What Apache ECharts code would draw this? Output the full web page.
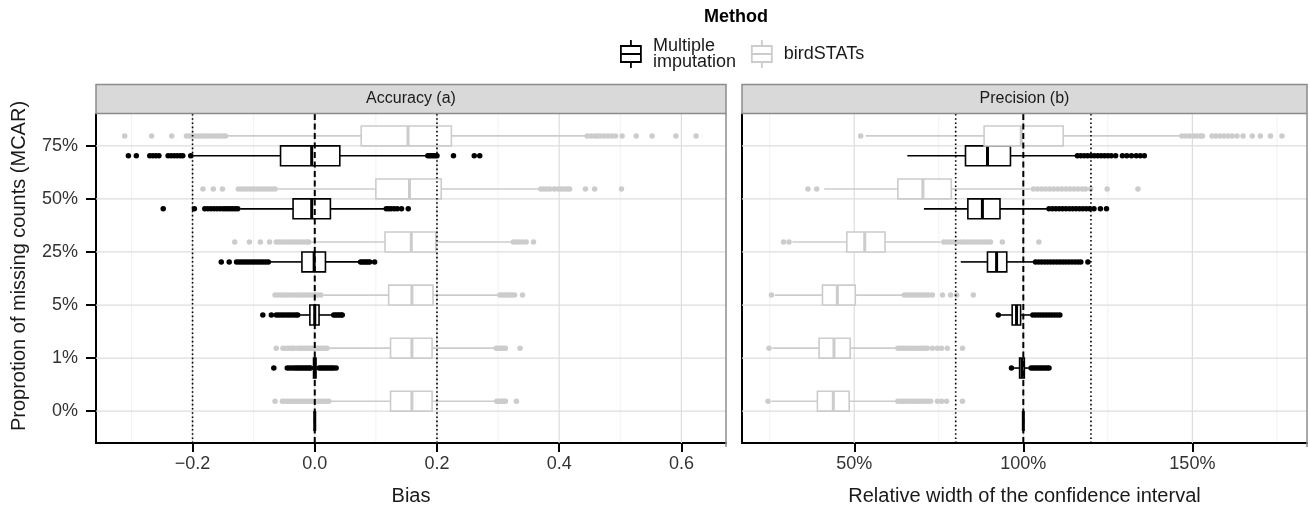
<!DOCTYPE html>
<html>
<head>
<meta charset="utf-8">
<style>
  html, body { margin: 0; padding: 0; background: #ffffff; }
  #chart { width: 1310px; height: 511px; }
</style>
<script src="https://cdn.jsdelivr.net/npm/echarts@6/dist/echarts.min.js"></script>
</head>
<body>
<div id="chart"></div>
<script>
// Proportion of missing counts, bottom to top
const categories = ['0%', '1%', '5%', '25%', '50%', '75%'];

// Axis ticks
const biasTicks = [-0.2, 0, 0.2, 0.4, 0.6];
const biasMinor = [-0.3, -0.1, 0.1, 0.3, 0.5];
const widthTicks = [50, 100, 150];
const widthMinor = [25, 75, 125, 175];

// Reference lines
const biasDotted = [-0.2, 0.2];
const biasDashed = [0];
const widthDotted = [80, 120];
const widthDashed = [100];

// Box statistics per category: [lower whisker, Q1, median, Q3, upper whisker]
const biasMIBox = [
  [0, 0, 0, 0, 0],
  [-0.006, -0.002, 0, 0.002, 0.006],
  [-0.026, -0.008, 0, 0.007, 0.029],
  [-0.073, -0.021, -0.001, 0.0175, 0.072],
  [-0.122, -0.0355, -0.005, 0.0256, 0.1145],
  [-0.199, -0.056, -0.005, 0.041, 0.183]
];
const biasBSBox = [
  [0.025, 0.124, 0.159, 0.192, 0.296],
  [0.024, 0.124, 0.159, 0.192, 0.294],
  [0.014, 0.121, 0.159, 0.1935, 0.301],
  [-0.008, 0.115, 0.158, 0.198, 0.322],
  [-0.063, 0.100, 0.155, 0.207, 0.368],
  [-0.142, 0.076, 0.1526, 0.2236, 0.444]
];
const widthMIBox = [
  [100, 100, 100, 100, 100],
  [97.0, 98.9, 99.6, 100.3, 101.8],
  [93.0, 96.7, 98.0, 99.2, 102.2],
  [81.5, 89.4, 92.1, 95.1, 103.1],
  [70.6, 83.6, 87.9, 93.1, 107.1],
  [65.7, 82.9, 89.4, 96.2, 115.5]
];
const widthBSBox = [
  [25.5, 39.1, 43.8, 48.5, 62.3],
  [25.8, 39.6, 44.0, 48.8, 62.3],
  [26.5, 40.6, 45.0, 50.3, 64.2],
  [31.7, 47.8, 53.1, 59.1, 75.8],
  [41.1, 62.9, 70.3, 78.7, 102.2],
  [53.4, 88.4, 99.4, 111.8, 146.5]
];

// Outlying values per category
const biasMIOut = [
  [],
  [-0.067, -0.045, -0.041, -0.037, -0.033, -0.030, -0.027, -0.024, -0.021, -0.018, -0.015, -0.012, -0.009, -0.007,
   0.007, 0.010, 0.013, 0.016, 0.019, 0.022, 0.025, 0.028, 0.031, 0.035],
  [-0.085, -0.071, -0.063, -0.059, -0.055, -0.051, -0.047, -0.043, -0.039, -0.035, -0.031, -0.028,
   0.031, 0.034, 0.037, 0.040, 0.043, 0.045],
  [-0.153, -0.140, -0.128, -0.124, -0.120, -0.116, -0.112, -0.108, -0.104, -0.100, -0.096, -0.092, -0.088, -0.084, -0.080, -0.076,
   0.075, 0.078, 0.081, 0.084, 0.087, 0.090, 0.098],
  [-0.248, -0.197, -0.180, -0.175, -0.170, -0.165, -0.160, -0.155, -0.150, -0.146, -0.142, -0.138, -0.134, -0.130, -0.126,
   0.117, 0.121, 0.125, 0.130, 0.135, 0.142, 0.153],
  [-0.305, -0.292, -0.270, -0.265, -0.260, -0.255, -0.240, -0.235, -0.230, -0.225, -0.220, -0.216, -0.203,
   0.185, 0.188, 0.191, 0.194, 0.197, 0.200, 0.227, 0.261, 0.270]
];
const biasBSOut = [
  [-0.065, -0.053, -0.049, -0.045, -0.041, -0.037, -0.033, -0.029, -0.025, -0.021, -0.017, -0.013, -0.009, -0.005, -0.001, 0.003, 0.007, 0.011, 0.015, 0.019, 0.023,
   0.298, 0.301, 0.304, 0.307, 0.310, 0.312, 0.330],
  [-0.063, -0.052, -0.048, -0.044, -0.040, -0.036, -0.034, -0.028, -0.024, -0.020, -0.016, -0.012, -0.008, -0.004, 0.000, 0.004, 0.008, 0.012, 0.016, 0.020,
   0.297, 0.300, 0.303, 0.306, 0.309, 0.312, 0.336],
  [-0.065, -0.060, -0.055, -0.050, -0.045, -0.040, -0.035, -0.030, -0.025, -0.020, -0.015, -0.010, -0.005, 0.000, 0.005, 0.010,
   0.303, 0.307, 0.311, 0.315, 0.319, 0.323, 0.327, 0.340],
  [-0.131, -0.107, -0.089, -0.074, -0.063, -0.058, -0.053, -0.048, -0.043, -0.038, -0.033, -0.028, -0.023, -0.018, -0.013, -0.010,
   0.325, 0.330, 0.335, 0.340, 0.346, 0.358],
  [-0.183, -0.166, -0.151, -0.125, -0.120, -0.115, -0.110, -0.105, -0.100, -0.095, -0.090, -0.085, -0.080, -0.075, -0.070, -0.065,
   0.370, 0.375, 0.380, 0.385, 0.392, 0.398, 0.403, 0.408, 0.413, 0.417, 0.443, 0.458, 0.502],
  [-0.311, -0.267, -0.234, -0.210, -0.205, -0.200, -0.195, -0.190, -0.185, -0.180, -0.175, -0.170, -0.165, -0.160, -0.155, -0.150, -0.146,
   0.446, 0.452, 0.458, 0.463, 0.468, 0.474, 0.480, 0.486, 0.492, 0.503, 0.526, 0.552, 0.591, 0.624]
];
const widthMIOut = [
  [],
  [96.5, 102.3, 102.9, 103.5, 104.1, 104.7, 105.3, 105.9, 106.5, 107.1, 107.6],
  [92.6, 102.8, 103.6, 104.4, 105.2, 106.0, 106.8, 107.6, 108.4, 109.2, 110.0, 110.8],
  [103.6, 104.5, 105.4, 106.3, 107.2, 108.1, 109.0, 109.9, 110.8, 111.7, 112.6, 113.5, 114.4, 115.3, 116.2, 117.0, 119.1],
  [107.6, 108.6, 109.6, 110.6, 111.6, 112.6, 113.6, 114.6, 115.6, 116.6, 117.6, 118.6, 119.6, 120.9, 122.8, 124.6],
  [116.0, 117.0, 118.0, 119.0, 120.0, 121.0, 122.0, 123.0, 124.0, 125.0, 126.0, 127.3, 129.3, 130.6, 132.0, 133.4, 134.6, 135.8]
];
const widthBSOut = [
  [24.5, 62.9, 63.7, 64.5, 65.3, 66.1, 66.9, 67.7, 68.5, 69.3, 70.1, 70.9, 71.7, 72.6, 74.6, 75.8, 77.3, 82.0],
  [24.8, 62.9, 63.7, 64.5, 65.3, 66.1, 66.9, 67.7, 68.5, 69.3, 70.1, 70.9, 71.6, 73.1, 74.6, 75.8, 77.5, 82.0],
  [25.5, 64.8, 65.6, 66.4, 67.2, 68.0, 68.8, 69.6, 70.4, 71.2, 72.0, 73.1, 76.1, 78.5, 80.3, 85.2],
  [29.1, 30.7, 76.5, 77.5, 78.5, 79.5, 80.5, 81.5, 82.5, 83.5, 84.5, 85.5, 86.5, 87.5, 88.5, 89.5, 90.3, 93.8, 104.6],
  [36.3, 38.9, 103.0, 104.2, 105.4, 106.6, 107.8, 109.0, 110.2, 111.4, 112.6, 113.8, 115.0, 116.2, 117.4, 118.4, 119.9, 124.8, 133.9],
  [51.9, 146.9, 148.0, 149.1, 150.2, 151.3, 152.4, 153.0, 155.8, 157.0, 158.2, 159.4, 160.6, 161.8, 163.2, 165.0, 167.7, 170.1, 173.1, 176.5]
];

// ---- drawing ----
const FONT = '"Liberation Sans", Arial, Helvetica, sans-serif';
const MI_COLOR = '#000000';
const BS_COLOR = '#CCCCCC';
const DODGE = 0.1875;      // half of the dodge spacing within a category
const BOX_SPAN = 0.375;    // box thickness in category units
const Y_MIN = -0.6, Y_MAX = 5.6;

const chart = echarts.init(document.getElementById('chart'), null, { renderer: 'canvas' });

function boxSeries(name, gridIdx, stats, offset, color) {
  return {
    name: name,
    type: 'custom',
    xAxisIndex: gridIdx,
    yAxisIndex: gridIdx,
    z: 3,
    silent: true,
    itemStyle: { color: color },
    data: stats.map((s, i) => [i].concat(s)),
    renderItem: function (params, api) {
      const yc = api.value(0) + offset;
      const lo = api.coord([api.value(1), yc]);
      const q1 = api.coord([api.value(2), yc]);
      const md = api.coord([api.value(3), yc]);
      const q3 = api.coord([api.value(4), yc]);
      const hi = api.coord([api.value(5), yc]);
      const h = api.size([0, BOX_SPAN])[1];
      const lw = 1.6;
      return {
        type: 'group',
        children: [
          { type: 'line', shape: { x1: lo[0], y1: lo[1], x2: q1[0], y2: q1[1] }, style: { stroke: color, lineWidth: lw } },
          { type: 'line', shape: { x1: q3[0], y1: q3[1], x2: hi[0], y2: hi[1] }, style: { stroke: color, lineWidth: lw } },
          { type: 'rect', shape: { x: q1[0], y: q1[1] - h / 2, width: q3[0] - q1[0], height: h },
            style: { fill: '#ffffff', stroke: color, lineWidth: lw } },
          { type: 'line', shape: { x1: md[0], y1: md[1] - h / 2, x2: md[0], y2: md[1] + h / 2 },
            style: { stroke: color, lineWidth: 3 } }
        ]
      };
    }
  };
}

function outlierSeries(name, gridIdx, outs, offset, color) {
  const pts = [];
  outs.forEach((vals, i) => vals.forEach(v => pts.push([v, i + offset])));
  return {
    name: name,
    type: 'scatter',
    xAxisIndex: gridIdx,
    yAxisIndex: gridIdx,
    z: 4,
    silent: true,
    symbol: 'circle',
    symbolSize: 5.5,
    itemStyle: { color: color, opacity: 1 },
    data: pts
  };
}

// vertical lines across the panel at given x values
function vLines(gridIdx, values, style, z) {
  return {
    type: 'custom',
    xAxisIndex: gridIdx,
    yAxisIndex: gridIdx,
    z: z,
    silent: true,
    data: values.map(v => [v]),
    renderItem: function (params, api) {
      const top = api.coord([api.value(0), Y_MAX]);
      const bot = api.coord([api.value(0), Y_MIN]);
      return { type: 'line', shape: { x1: top[0], y1: top[1], x2: bot[0], y2: bot[1] }, style: style };
    }
  };
}

// horizontal lines at category positions
function hLines(gridIdx, style) {
  return {
    type: 'custom',
    xAxisIndex: gridIdx,
    yAxisIndex: gridIdx,
    z: 1,
    silent: true,
    data: categories.map((c, i) => [i]),
    renderItem: function (params, api) {
      const cs = params.coordSys;
      const p = api.coord([0, api.value(0)]);
      return { type: 'line', shape: { x1: cs.x, y1: p[1], x2: cs.x + cs.width, y2: p[1] }, style: style };
    }
  };
}

const majorGrid = { stroke: '#DDDDDD', lineWidth: 1.2 };
const minorGrid = { stroke: '#F2F2F2', lineWidth: 1 };
const dotted = { stroke: '#000000', lineWidth: 1.6, lineDash: [1.6, 2.6] };
const dashed = { stroke: '#000000', lineWidth: 2, lineDash: [6, 3.5] };

function fmtBias(v) {
  const s = Math.abs(v).toFixed(1);
  return v < -1e-9 ? '\u2212' + s : s;
}

const axisLabelCommon = { fontFamily: FONT, fontSize: 18, color: '#333333' };
const tickStyle = { color: '#000000', width: 2 };
const boxIcon = 'path://M10,0L10,6M0,6L20,6L20,22L0,22ZM0,14L20,14M10,22L10,28';

const option = {
  animation: false,
  backgroundColor: '#ffffff',
  grid: [
    { left: 96, top: 114, width: 630, height: 333, containLabel: false },
    { left: 742, top: 114, width: 565, height: 333, containLabel: false }
  ],
  xAxis: [
    {
      type: 'value', gridIndex: 0, min: -0.358, max: 0.673,
      name: 'Bias', nameLocation: 'middle', nameGap: 43,
      nameTextStyle: { fontFamily: FONT, fontSize: 20, color: '#1A1A1A' },
      axisLine: { show: true, onZero: false, lineStyle: { color: '#000000', width: 2 } },
      axisTick: { show: true, length: 9, lineStyle: tickStyle, customValues: biasTicks },
      axisLabel: Object.assign({ margin: 12, customValues: biasTicks, formatter: fmtBias }, axisLabelCommon),
      splitLine: { show: false }
    },
    {
      type: 'value', gridIndex: 1, min: 16.8, max: 183.9,
      name: 'Relative width of the confidence interval', nameLocation: 'middle', nameGap: 43,
      nameTextStyle: { fontFamily: FONT, fontSize: 20, color: '#1A1A1A' },
      axisLine: { show: true, onZero: false, lineStyle: { color: '#000000', width: 2 } },
      axisTick: { show: true, length: 9, lineStyle: tickStyle, customValues: widthTicks },
      axisLabel: Object.assign({ margin: 12, customValues: widthTicks, formatter: v => Math.round(v) + '%' }, axisLabelCommon),
      splitLine: { show: false }
    }
  ],
  yAxis: [
    {
      type: 'value', gridIndex: 0, min: Y_MIN, max: Y_MAX,
      axisLine: { show: true, onZero: false, lineStyle: { color: '#000000', width: 2 } },
      axisTick: { show: true, length: 10, lineStyle: tickStyle, customValues: [0, 1, 2, 3, 4, 5] },
      axisLabel: Object.assign({ margin: 18, customValues: [0, 1, 2, 3, 4, 5],
        formatter: v => categories[Math.round(v)] }, axisLabelCommon),
      splitLine: { show: false }
    },
    {
      type: 'value', gridIndex: 1, min: Y_MIN, max: Y_MAX,
      axisLine: { show: true, onZero: false, lineStyle: { color: '#000000', width: 2 } },
      axisTick: { show: false },
      axisLabel: { show: false },
      splitLine: { show: false }
    }
  ],
  legend: {
    left: 620, top: 37, padding: 0, orient: 'horizontal', itemGap: 15,
    itemWidth: 20, itemHeight: 28, selectedMode: false,
    textStyle: { fontFamily: FONT, fontSize: 18, lineHeight: 16, color: '#1A1A1A', padding: [0, 0, 0, 7] },
    formatter: n => n === 'Multiple imputation' ? 'Multiple\nimputation' : n,
    data: [
      { name: 'Multiple imputation', icon: boxIcon,
        itemStyle: { color: '#ffffff', borderColor: MI_COLOR, borderWidth: 1.8 } },
      { name: 'birdSTATs', icon: boxIcon,
        itemStyle: { color: '#ffffff', borderColor: BS_COLOR, borderWidth: 1.8 } }
    ]
  },
  graphic: [
    { type: 'text', x: 736, y: 17.5, z: 10,
      style: { text: 'Method', fontFamily: FONT, fontSize: 18, fontWeight: 'bold', fill: '#000000',
        textAlign: 'center', textVerticalAlign: 'middle' } },
    { type: 'text', x: 19, y: 266, rotation: Math.PI / 2, z: 10,
      style: { text: 'Proprotion of missing counts (MCAR)', fontFamily: FONT, fontSize: 20, fill: '#1A1A1A',
        textAlign: 'center', textVerticalAlign: 'middle' } },
    // strips
    { type: 'rect', shape: { x: 96, y: 84.5, width: 630, height: 29 }, z: 10,
      style: { fill: '#D9D9D9', stroke: '#8C8C8C', lineWidth: 1.5 } },
    { type: 'text', x: 411, y: 99, z: 11,
      style: { text: 'Accuracy (a)', fontFamily: FONT, fontSize: 16, fill: '#1A1A1A',
        textAlign: 'center', textVerticalAlign: 'middle' } },
    { type: 'rect', shape: { x: 742, y: 84.5, width: 565, height: 29 }, z: 10,
      style: { fill: '#D9D9D9', stroke: '#8C8C8C', lineWidth: 1.5 } },
    { type: 'text', x: 1024.5, y: 99, z: 11,
      style: { text: 'Precision (b)', fontFamily: FONT, fontSize: 16, fill: '#1A1A1A',
        textAlign: 'center', textVerticalAlign: 'middle' } },
    // right-hand panel borders
    { type: 'line', shape: { x1: 726, y1: 113.5, x2: 726, y2: 447 }, z: 10,
      style: { stroke: '#8C8C8C', lineWidth: 1.5 } },
    { type: 'line', shape: { x1: 1307, y1: 113.5, x2: 1307, y2: 447 }, z: 10,
      style: { stroke: '#8C8C8C', lineWidth: 1.5 } }
  ],
  series: [
    // panel grid lines
    vLines(0, biasMinor, minorGrid, 0),
    vLines(0, biasTicks, majorGrid, 1),
    hLines(0, majorGrid),
    vLines(1, widthMinor, minorGrid, 0),
    vLines(1, widthTicks, majorGrid, 1),
    hLines(1, majorGrid),

    // accuracy panel
    boxSeries('Multiple imputation', 0, biasMIBox, -DODGE, MI_COLOR),
    boxSeries('birdSTATs', 0, biasBSBox, DODGE, BS_COLOR),
    outlierSeries('Multiple imputation', 0, biasMIOut, -DODGE, MI_COLOR),
    outlierSeries('birdSTATs', 0, biasBSOut, DODGE, BS_COLOR),

    // precision panel
    boxSeries('Multiple imputation', 1, widthMIBox, -DODGE, MI_COLOR),
    boxSeries('birdSTATs', 1, widthBSBox, DODGE, BS_COLOR),
    outlierSeries('Multiple imputation', 1, widthMIOut, -DODGE, MI_COLOR),
    outlierSeries('birdSTATs', 1, widthBSOut, DODGE, BS_COLOR),

    // reference lines
    vLines(0, biasDotted, dotted, 6),
    vLines(0, biasDashed, dashed, 6),
    vLines(1, widthDotted, dotted, 6),
    vLines(1, widthDashed, dashed, 6)
  ]
};

chart.setOption(option);
</script>
</body>
</html>
